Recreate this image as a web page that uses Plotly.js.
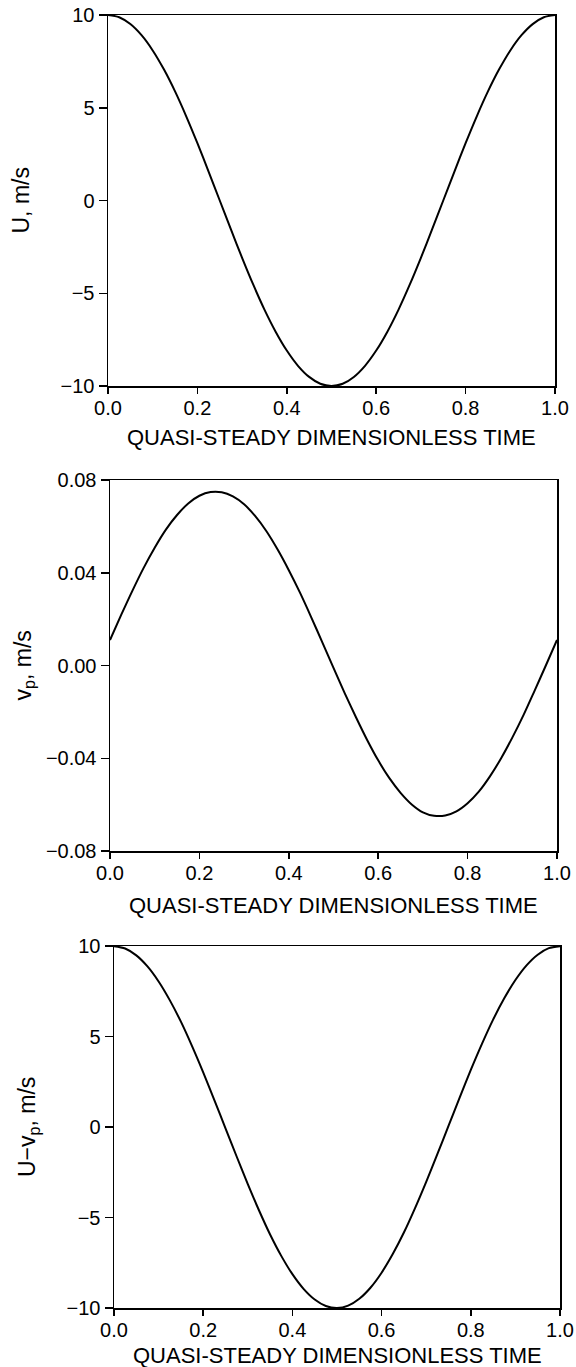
<!DOCTYPE html>
<html>
<head>
<meta charset="utf-8">
<script src="https://cdn.plot.ly/plotly-3.0.1.min.js"></script>
<style>
  html, body { margin: 0; padding: 0; background: #fff; }
  #chart { width: 576px; height: 1367px; }
</style>
</head>
<body>
<div id="chart"></div>
<script>
// Quasi-steady dimensionless time samples
const timeValues = [0, 0.025, 0.05, 0.075, 0.1, 0.125, 0.15, 0.175, 0.2, 0.225,
                    0.25, 0.275, 0.3, 0.325, 0.35, 0.375, 0.4, 0.425, 0.45, 0.475,
                    0.5, 0.525, 0.55, 0.575, 0.6, 0.625, 0.65, 0.675, 0.7, 0.725,
                    0.75, 0.775, 0.8, 0.825, 0.85, 0.875, 0.9, 0.925, 0.95, 0.975, 1.0];
// Panel 1: U, m/s
const uValues = [10, 9.88, 9.51, 8.91, 8.09, 7.07, 5.88, 4.54, 3.09, 1.56,
                 0.0, -1.56, -3.09, -4.54, -5.88, -7.07, -8.09, -8.91, -9.51, -9.88,
                 -10, -9.88, -9.51, -8.91, -8.09, -7.07, -5.88, -4.54, -3.09, -1.56,
                 0.0, 1.56, 3.09, 4.54, 5.88, 7.07, 8.09, 8.91, 9.51, 9.88, 10];
// Panel 2: v_p, m/s
const vpValues = [0.011, 0.0218, 0.0322, 0.0420, 0.0508, 0.0586, 0.0649, 0.0699, 0.0732, 0.0748,
                  0.0747, 0.0729, 0.0695, 0.0644, 0.0579, 0.0500, 0.0411, 0.0314, 0.0209, 0.0100,
                  -0.0010, -0.0119, -0.0222, -0.0320, -0.0409, -0.0486, -0.0549, -0.0599, -0.0633, -0.0648,
                  -0.0647, -0.0629, -0.0594, -0.0544, -0.0478, -0.0400, -0.0311, -0.0214, -0.0108, 0.0000, 0.011];
// Panel 3: U - v_p, m/s
const uMinusVpValues = [9.99, 9.86, 9.48, 8.87, 8.04, 7.01, 5.82, 4.47, 3.02, 1.49,
                        -0.07, -1.63, -3.16, -4.60, -5.94, -7.12, -8.13, -8.94, -9.53, -9.89,
                        -10.0, -9.87, -9.49, -8.88, -8.05, -7.02, -5.83, -4.48, -3.03, -1.50,
                        0.06, 1.62, 3.15, 4.59, 5.93, 7.11, 8.12, 8.93, 9.52, 9.88, 9.99];

const xTickVals = [0, 0.2, 0.4, 0.6, 0.8, 1.0];
const xTickText = ['0.0', '0.2', '0.4', '0.6', '0.8', '1.0'];
const uTickVals = [-10, -5, 0, 5, 10];
const uTickText = ['\u221210', '\u22125', '0', '5', '10'];
const vpTickVals = [-0.08, -0.04, 0, 0.04, 0.08];
const vpTickText = ['\u22120.08', '\u22120.04', '0.00', '0.04', '0.08'];

const xTitle = 'QUASI-STEADY DIMENSIONLESS TIME';
const yTitles = ['U, m/s', 'v<sub>p</sub>, m/s', 'U\u2212v<sub>p</sub>, m/s'];

const H = 1367, W = 576;
const FONT = 'Liberation Sans, Arial, sans-serif';
const lineStyle = {color: '#000', width: 2, shape: 'spline', smoothing: 0.8};

const traces = [
  {x: timeValues, y: uValues, xaxis: 'x', yaxis: 'y', mode: 'lines', line: lineStyle, hoverinfo: 'skip'},
  {x: timeValues, y: vpValues, xaxis: 'x2', yaxis: 'y2', mode: 'lines', line: lineStyle, hoverinfo: 'skip'},
  {x: timeValues, y: uMinusVpValues, xaxis: 'x3', yaxis: 'y3', mode: 'lines', line: lineStyle, hoverinfo: 'skip'}
];

function xAxis(left, right, anchor) {
  return {
    domain: [left / W, right / W], anchor: anchor, range: [0, 1],
    tickvals: xTickVals, ticktext: xTickText,
    ticks: 'outside', ticklen: 6, tickwidth: 1.5, tickcolor: '#000',
    showline: true, linecolor: '#000', linewidth: 1.5, mirror: true,
    showgrid: false, zeroline: false, fixedrange: true,
    tickfont: {family: FONT, size: 20, color: '#000'},
    ticklabelstandoff: -3
  };
}
function yAxis(top, bottom, anchor, rng, tv, tt) {
  return {
    domain: [1 - bottom / H, 1 - top / H], anchor: anchor, range: rng,
    tickvals: tv, ticktext: tt,
    ticks: 'outside', ticklen: 8, tickwidth: 1.5, tickcolor: '#000',
    showline: true, linecolor: '#000', linewidth: 1.5, mirror: true,
    showgrid: false, zeroline: false, fixedrange: true,
    tickfont: {family: FONT, size: 20, color: '#000'}
  };
}

// panel frames in pixels: [left, right, top, bottom]
const panels = [[108, 555, 15, 386], [110, 557, 480, 851], [114, 560, 946, 1308]];
const xTitleY = [437, 905, 1355];
const yTitleX = [20, 24, 28];

const annotations = [];
panels.forEach(function (p, i) {
  annotations.push({
    xref: 'paper', yref: 'paper', x: (p[0] + p[1]) / 2 / W, y: 1 - xTitleY[i] / H,
    xanchor: 'center', yanchor: 'middle', showarrow: false, text: xTitle,
    font: {family: FONT, size: 22, color: '#000'}, borderpad: 0
  });
  annotations.push({
    xref: 'paper', yref: 'paper', x: yTitleX[i] / W, y: 1 - (p[2] + p[3]) / 2 / H,
    xanchor: 'center', yanchor: 'middle', showarrow: false, text: yTitles[i], textangle: -90,
    font: {family: FONT, size: 23, color: '#000'}
  });
});

const layout = {
  width: W, height: H,
  margin: {l: 0, r: 0, t: 0, b: 0},
  paper_bgcolor: '#fff', plot_bgcolor: '#fff',
  showlegend: false,
  xaxis: xAxis(panels[0][0], panels[0][1], 'y'),
  yaxis: yAxis(panels[0][2], panels[0][3], 'x', [-10, 10], uTickVals, uTickText),
  xaxis2: xAxis(panels[1][0], panels[1][1], 'y2'),
  yaxis2: yAxis(panels[1][2], panels[1][3], 'x2', [-0.08, 0.08], vpTickVals, vpTickText),
  xaxis3: xAxis(panels[2][0], panels[2][1], 'y3'),
  yaxis3: yAxis(panels[2][2], panels[2][3], 'x3', [-10, 10], uTickVals, uTickText),
  annotations: annotations
};

Plotly.newPlot('chart', traces, layout, {displayModeBar: false, staticPlot: true});
</script>
</body>
</html>
